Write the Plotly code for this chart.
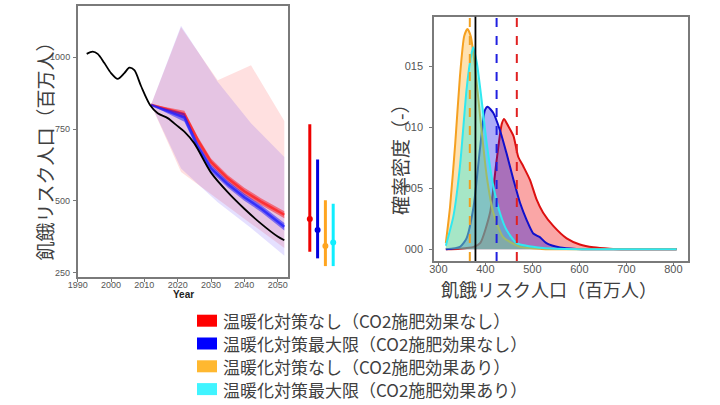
import plotly.graph_objects as go

W, H = 720, 405
def px(x): return x / W
def py(y): return 1 - y / H

# ---------------- data: left panel (time series) ----------------
hist_years = [1992.7, 1994.5, 1996, 1998, 2000, 2002, 2004, 2005.5, 2007, 2009, 2011.7,
              2014, 2017, 2020, 2022, 2025, 2030, 2035, 2040, 2045, 2050, 2052]
hist_vals = [1012, 1020, 1012, 980, 945, 925, 945, 964, 955, 900, 834,
             805, 788, 760, 741, 700, 598, 530, 472, 420, 375, 362]

band_years = [2012, 2021, 2032, 2042, 2052]
red_band_hi = [835, 1105, 920, 972, 778]
red_band_lo = [835, 600, 505, 420, 335]
blue_band_hi = [835, 1110, 915, 770, 652]
blue_band_lo = [835, 612, 495, 405, 308]

rib_years = [2012, 2017, 2022, 2026, 2030, 2035, 2040, 2045, 2052]
red_med = [835, 818, 802, 712, 635, 578, 533, 497, 451]
red_hw = [1, 7, 12, 12, 12, 12, 12, 12, 12]
blue_med = [834, 812, 790, 690, 613, 558, 512, 473, 409]
blue_hw = [1, 8, 15, 13, 12, 12, 12, 12, 13]

# summary bars for 2050
bar_pos = [0, 1, 2, 3]
bar_med = [436, 398, 342, 354]
bar_lo = [322, 299, 272, 272]
bar_hi = [767, 644, 502, 489]

# ---------------- data: right panel (densities) ----------------
orange_x = [316, 325, 336, 346, 355, 362, 369, 378, 389, 403, 417, 438, 474, 520, 600, 700, 807]
orange_d = [0.0005, 0.0035, 0.0087, 0.0142, 0.0175, 0.0181, 0.0175, 0.0150, 0.0109, 0.0060,
            0.0030, 0.0010, 0.0002, 0.00003, 0, 0, 0]
cyan_x = [316, 332, 346, 360, 368, 374, 382, 392, 403, 417, 431, 445, 467, 523, 600, 700, 807]
cyan_d = [0.0003, 0.0027, 0.0068, 0.0131, 0.0155, 0.0166, 0.0153, 0.0123, 0.0087, 0.0052,
          0.0030, 0.0016, 0.0005, 0.0001, 0, 0, 0]
blue_x = [316, 346, 360, 375, 389, 399, 405, 417, 431, 445, 460, 474, 488, 502, 516, 530,
          559, 594, 650, 807]
blue_d = [0, 0.0002, 0.0009, 0.0035, 0.0084, 0.0114, 0.0117, 0.0112, 0.0098, 0.0079, 0.0057,
          0.0038, 0.0024, 0.0013, 0.0010, 0.0005, 0.00014, 0.00003, 0, 0]
red_x = [316, 346, 375, 389, 410, 424, 435, 440, 449, 460, 470, 481, 495, 509, 523, 545,
         573, 601, 630, 665, 700, 807]
red_d = [0, 0.00005, 0.0002, 0.0005, 0.0030, 0.0073, 0.0103, 0.0107, 0.0101, 0.0093, 0.0076,
         0.0068, 0.0057, 0.0041, 0.0030, 0.0019, 0.0009, 0.0004, 0.00016, 0.00005, 0.00001, 0]
median_lines = [367, 424, 467]
median_colors = ["#F0A020", "#2020E0", "#E02020"]
observed_line = 379

scenarios = ["温暖化対策なし（CO2施肥効果なし）", "温暖化対策最大限（CO2施肥効果なし）",
             "温暖化対策なし（CO2施肥効果あり）", "温暖化対策最大限（CO2施肥効果あり）"]
scen_colors = ["#FF0000", "#0000FF", "#FFB830", "#40F4FF"]
bar_colors = ["#EE0000", "#0000DD", "#FFA520", "#10EEFF"]

fig = go.Figure()

# light uncertainty bands
fig.add_trace(go.Scatter(x=band_years + band_years[::-1], y=red_band_hi + red_band_lo[::-1],
                         fill="toself", fillcolor="rgba(255,0,0,0.12)", line=dict(width=0),
                         mode="lines", showlegend=False, hoverinfo="skip"))
fig.add_trace(go.Scatter(x=band_years + band_years[::-1], y=blue_band_hi + blue_band_lo[::-1],
                         fill="toself", fillcolor="rgba(40,0,255,0.12)", line=dict(width=0),
                         mode="lines", showlegend=False, hoverinfo="skip"))

# dark ribbons
for med, hw, fc, lc in [(red_med, red_hw, "rgba(255,0,0,0.45)", "rgba(255,30,30,0.75)"),
                        (blue_med, blue_hw, "rgba(0,0,255,0.45)", "rgba(30,30,255,0.75)")]:
    hi = [m + h for m, h in zip(med, hw)]
    lo = [m - h for m, h in zip(med, hw)]
    fig.add_trace(go.Scatter(x=rib_years + rib_years[::-1], y=hi + lo[::-1], fill="toself",
                             fillcolor=fc, line=dict(width=0), mode="lines",
                             showlegend=False, hoverinfo="skip"))
    fig.add_trace(go.Scatter(x=rib_years, y=med, mode="lines", line=dict(color=lc, width=2.5),
                             showlegend=False))

# historical / observed line
fig.add_trace(go.Scatter(x=hist_years, y=hist_vals, mode="lines",
                         line=dict(color="black", width=1.8, shape="spline", smoothing=0.8),
                         showlegend=False))

# 2050 summary bars
for i in range(4):
    fig.add_trace(go.Scatter(x=[bar_pos[i]], y=[bar_med[i]], mode="markers", xaxis="x3", yaxis="y",
                             marker=dict(color=bar_colors[i], size=6),
                             error_y=dict(type="data", symmetric=False,
                                          array=[bar_hi[i] - bar_med[i]],
                                          arrayminus=[bar_med[i] - bar_lo[i]],
                                          color=bar_colors[i], thickness=3, width=0),
                             showlegend=False))

# densities
for xs, ds, fc, lc in [(red_x, red_d, "rgba(240,0,0,0.35)", "#DD1010"),
                       (blue_x, blue_d, "rgba(0,0,230,0.32)", "#1010CC"),
                       (orange_x, orange_d, "rgba(255,170,30,0.35)", "#F5A020"),
                       (cyan_x, cyan_d, "rgba(0,240,240,0.35)", "#30E8F0")]:
    fig.add_trace(go.Scatter(x=xs, y=ds, xaxis="x2", yaxis="y2", mode="lines", fill="tozeroy",
                             fillcolor=fc, line=dict(color=lc, width=2, shape="spline", smoothing=0.6),
                             showlegend=False))

shapes = []
for m, c in zip(median_lines, median_colors):
    shapes.append(dict(type="line", xref="x2", yref="y2 domain", x0=m, x1=m, y0=0, y1=1,
                       line=dict(color=c, width=2, dash="dash")))
shapes.append(dict(type="line", xref="x2", yref="y2 domain", x0=observed_line, x1=observed_line,
                   y0=0, y1=1, line=dict(color="black", width=1.8)))

# legend (swatches + labels)
annotations = []
row_y = [320.7, 343.5, 366.3, 389.1]
for i, (name, col) in enumerate(zip(scenarios, scen_colors)):
    shapes.append(dict(type="rect", xref="paper", yref="paper", x0=px(197), x1=px(217),
                       y0=py(row_y[i] + 6), y1=py(row_y[i] - 6), fillcolor=col, line=dict(width=0)))
    annotations.append(dict(text=name, xref="paper", yref="paper", x=px(221), y=py(row_y[i]),
                            xanchor="left", yanchor="middle", showarrow=False,
                            font=dict(family="Noto Sans CJK JP", size=17, color="#404040")))

jp = dict(family="Noto Sans CJK JP", color="#404040")
annotations += [
    dict(text="飢餓リスク人口（百万人）", xref="paper", yref="paper", x=px(43.5), y=py(147),
         textangle=-90, showarrow=False, xanchor="center", yanchor="middle", font=dict(size=19, **jp)),
    dict(text="<b>Year</b>", xref="paper", yref="paper", x=px(183), y=py(294), showarrow=False,
         xanchor="center", yanchor="middle",
         font=dict(family="Liberation Sans", size=10, color="#222")),
    dict(text="確率密度（-）", xref="paper", yref="paper", x=px(400), y=py(155),
         textangle=-90, showarrow=False, xanchor="center", yanchor="middle", font=dict(size=19, **jp)),
    dict(text="飢餓リスク人口（百万人）", xref="paper", yref="paper", x=px(549), y=py(288.5),
         showarrow=False, xanchor="center", yanchor="middle", font=dict(size=18, **jp)),
]

axis_common = dict(showgrid=False, zeroline=False, showline=True, mirror=True,
                   linecolor="#7a7a7a", linewidth=1.5, ticks="outside", ticklen=3,
                   tickcolor="#7a7a7a", automargin=False)

fig.update_layout(
    width=W, height=H, margin=dict(l=0, r=0, t=0, b=0, autoexpand=False),
    paper_bgcolor="white", plot_bgcolor="white", showlegend=False,
    xaxis=dict(domain=[px(77.7), px(288)], range=[1990, 2053.1],
               tickvals=[1990, 2000, 2010, 2020, 2030, 2040, 2050], ticklabelstandoff=-5,
               tickfont=dict(family="Liberation Sans", size=9, color="#555"), anchor="y",
               **axis_common),
    yaxis=dict(domain=[py(277), py(5.7)], range=[234, 1180], tickvals=[250, 500, 750, 1000],
               tickfont=dict(family="Liberation Sans", size=9, color="#555"), anchor="x",
               ticklabelstandoff=1, **axis_common),
    xaxis3=dict(domain=[px(302), px(341)], range=[-1, 4], anchor="y", visible=False,
                automargin=False),
    xaxis2=dict(domain=[px(434), px(687.7)], range=[290.8, 830.6],
                tickvals=[300, 400, 500, 600, 700, 800], ticklabelstandoff=-6,
                tickfont=dict(family="Liberation Sans", size=11, color="#555"), anchor="y2",
                **axis_common),
    yaxis2=dict(domain=[py(261), py(16.7)], range=[-0.00096, 0.0191],
                tickvals=[0, 0.005, 0.010, 0.015], ticktext=["000", "005", "010", "015"],
                tickfont=dict(family="Liberation Sans", size=11, color="#555"), anchor="x2",
                ticklabelstandoff=4, **axis_common),
    shapes=shapes, annotations=annotations,
)

fig.write_html("out.html", config={"displayModeBar": False},
               post_script="document.body.style.margin='0px';")
